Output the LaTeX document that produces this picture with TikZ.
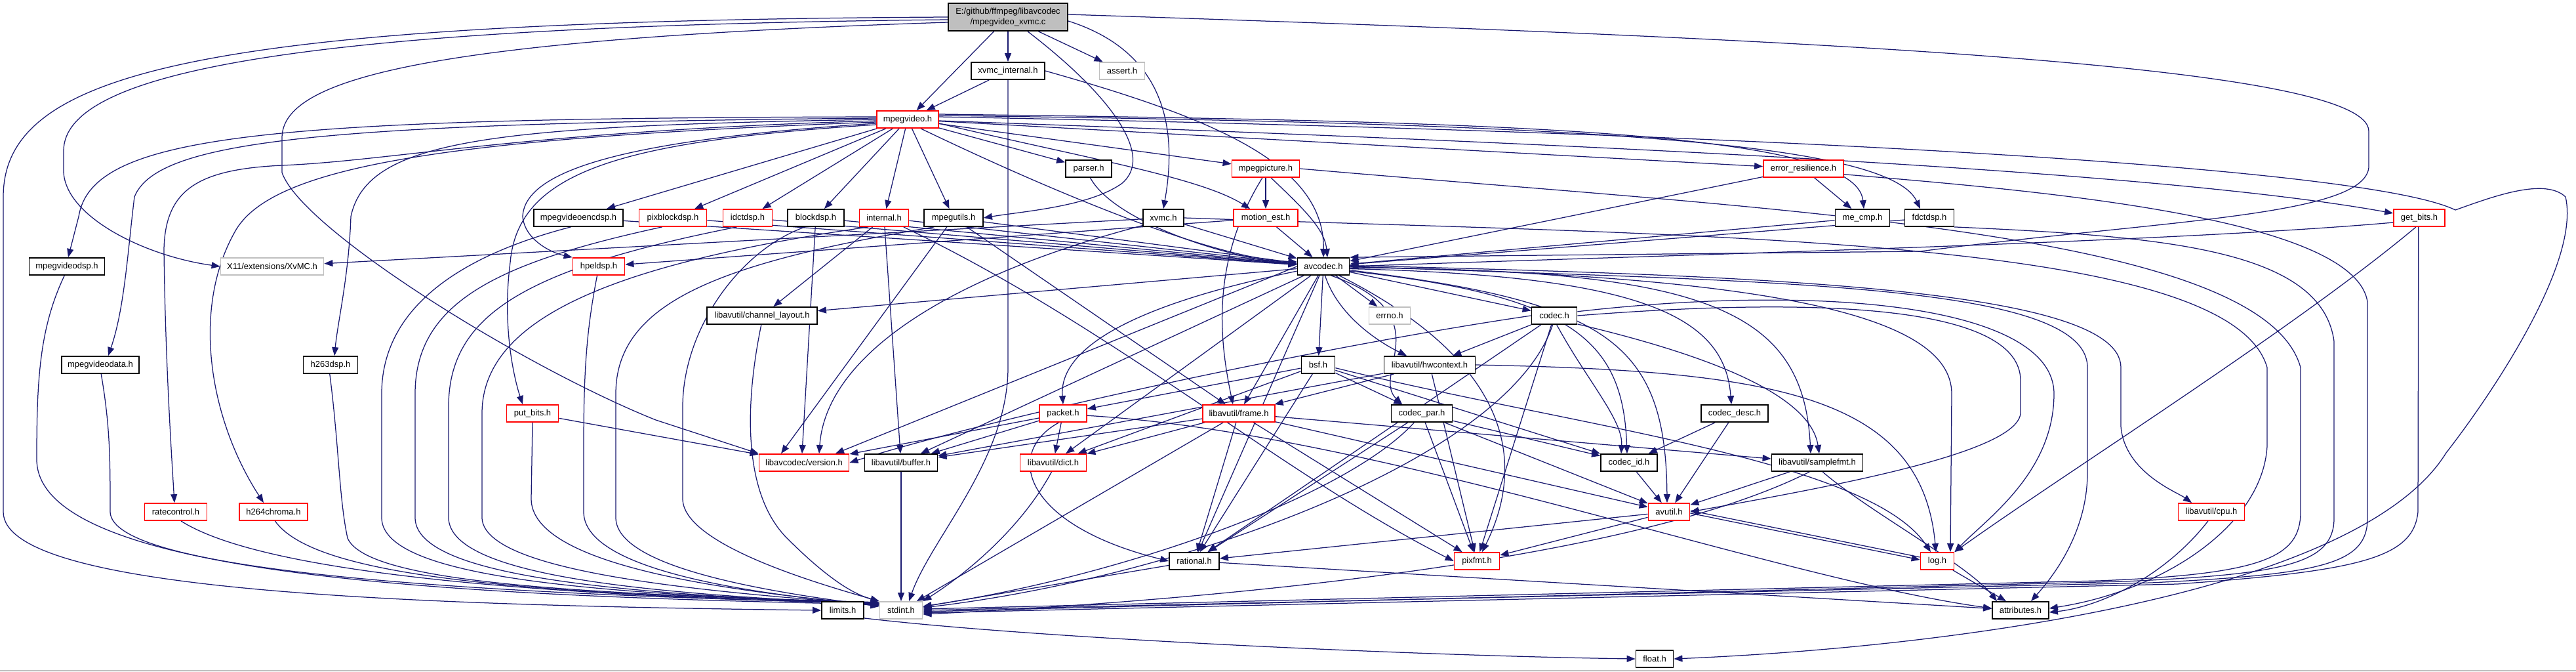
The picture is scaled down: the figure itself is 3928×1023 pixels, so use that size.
\documentclass[tikz,border=0pt]{standalone}
\usepackage{fontspec}
\newfontfamily\dxfont{Liberation Sans}
\usetikzlibrary{arrows.meta}
\definecolor{edgec}{HTML}{191970}
\definecolor{boxgrey}{HTML}{BFBFBF}
\pgfdeclarelayer{bg}
\pgfsetlayers{bg,main}
\tikzset{
  nb/.style={draw=black, line width=1.8pt, fill=white, minimum height=26pt, inner sep=0pt,
    font=\dxfont\fontsize{13pt}{16pt}\selectfont},
  nr/.style={nb, draw=red},
  ng/.style={nb, draw=boxgrey},
  edg/.style={draw=edgec, line width=1.25pt, -{Triangle[length=13pt,width=10pt]}},
}
\begin{document}
\begin{tikzpicture}[x=1pt,y=-1pt]
\useasboundingbox (0,0) rectangle (3928,1023);
% nodes
\node[nb, fill=boxgrey, minimum width=182pt, minimum height=42pt, align=center] (root) at (1537,26) {E:/github/ffmpeg/libavcodec\\/mpegvideo\_xvmc.c};
\node[nb, minimum width=112pt] (xvmcint) at (1537,108) {xvmc\_internal.h};
\node[ng, minimum width=69pt] (assert) at (1711,108) {assert.h};
\node[nr, minimum width=94pt] (mv) at (1384,182) {mpegvideo.h};
\node[nb, minimum width=70pt] (parser) at (1660,257) {parser.h};
\node[nr, minimum width=103pt] (mpegpic) at (1930,257) {mpegpicture.h};
\node[nr, minimum width=122pt] (errres) at (2750,257) {error\_resilience.h};
\node[nb, minimum width=136pt] (mvenc) at (882,332) {mpegvideoencdsp.h};
\node[nr, minimum width=103pt] (pixblk) at (1026,332) {pixblockdsp.h};
\node[nr, minimum width=75pt] (idct) at (1140,332) {idctdsp.h};
\node[nb, minimum width=86pt] (blk) at (1244,332) {blockdsp.h};
\node[nr, minimum width=75pt] (internal) at (1348,332) {internal.h};
\node[nb, minimum width=90pt] (mputils) at (1454,332) {mpegutils.h};
\node[nb, minimum width=62pt] (xvmch) at (1774,332) {xvmc.h};
\node[nr, minimum width=98pt] (motion) at (1930,332) {motion\_est.h};
\node[nb, minimum width=83pt] (mecmp) at (2840,332) {me\_cmp.h};
\node[nb, minimum width=75pt] (fdct) at (2942,332) {fdctdsp.h};
\node[nr, minimum width=78pt] (getbits) at (3689,332) {get\_bits.h};
\node[nb, minimum width=115pt] (mvdsp) at (102,406) {mpegvideodsp.h};
\node[ng, minimum width=157pt] (x11) at (415,406) {X11/extensions/XvMC.h};
\node[nr, minimum width=79pt] (hpel) at (913,406) {hpeldsp.h};
\node[nb, minimum width=79pt] (avcodec) at (2018,406) {avcodec.h};
\node[nb, minimum width=168pt] (chlayout) at (1162,481) {libavutil/channel\_layout.h};
\node[ng, minimum width=63pt] (errno) at (2119,481) {errno.h};
\node[nb, minimum width=69pt] (codec) at (2370,481) {codec.h};
\node[nb, minimum width=118pt] (mvdata) at (153,556) {mpegvideodata.h};
\node[nb, minimum width=83pt] (h263) at (504,556) {h263dsp.h};
\node[nb, minimum width=51pt] (bsf) at (2010,556) {bsf.h};
\node[nb, minimum width=139pt] (hwctx) at (2180,556) {libavutil/hwcontext.h};
\node[nr, minimum width=79pt] (putbits) at (812,630) {put\_bits.h};
\node[nr, minimum width=72pt] (packet) at (1621,630) {packet.h};
\node[nr, minimum width=110pt] (frame) at (1889,630) {libavutil/frame.h};
\node[nb, minimum width=93pt] (codecpar) at (2168,630) {codec\_par.h};
\node[nb, minimum width=102pt] (codecdesc) at (2645,630) {codec\_desc.h};
\node[nr, minimum width=137pt] (version) at (1226,705) {libavcodec/version.h};
\node[nb, minimum width=111pt] (buffer) at (1374,705) {libavutil/buffer.h};
\node[nr, minimum width=101pt] (dict) at (1606,705) {libavutil/dict.h};
\node[nb, minimum width=86pt] (codecid) at (2484,705) {codec\_id.h};
\node[nb, minimum width=139pt] (samplefmt) at (2771,705) {libavutil/samplefmt.h};
\node[nr, minimum width=95pt] (ratectl) at (268,780) {ratecontrol.h};
\node[nr, minimum width=104pt] (h264) at (417,780) {h264chroma.h};
\node[nr, minimum width=63pt] (avutil) at (2545,780) {avutil.h};
\node[nr, minimum width=101pt] (cpu) at (3372,780) {libavutil/cpu.h};
\node[nb, minimum width=76pt] (rational) at (1821,855) {rational.h};
\node[nr, minimum width=69pt] (pixfmt) at (2252,855) {pixfmt.h};
\node[nr, minimum width=51pt] (log) at (2954,855) {log.h};
\node[nb, minimum width=64pt] (limits) at (1285,930) {limits.h};
\node[ng, minimum width=65pt] (stdint) at (1374,930) {stdint.h};
\node[nb, minimum width=86pt] (attributes) at (3081,930) {attributes.h};
\node[nb, minimum width=57pt] (float) at (2523,1004) {float.h};

\begin{pgfonlayer}{bg}
\fill[white] (0,0) rectangle (3928,1023);
\draw[boxgrey, line width=2pt] (0,1021.5) -- (3928,1021.5);
% root
\draw[edg] (root.west) .. controls (300,32) and (5,110) .. (5,300) -- (5,780) .. controls (5,900) and (600,922) .. (limits.west);
\draw[edg] ([yshift=-4pt]root.west) .. controls (450,40) and (97,110) .. (97,230) -- (97,262) .. controls (100,330) and (220,390) .. (x11.west);
\draw[edg] ([yshift=-8pt]root.west) .. controls (650,60) and (430,120) .. (430,210) -- (430,263) .. controls (460,350) and (800,560) .. (1000,640) -- (version.north west);
\draw[edg] (root) -- (mv);
\draw[edg] (root) -- (xvmcint);
\draw[edg] (root) -- (assert);
\draw[edg] ([xshift=30pt]root.south) .. controls (1700,150) and (1760,240) .. (1710,280) .. controls (1660,315) and (1560,322) .. (mputils.east);
\draw[edg] ([yshift=-6pt]root.east) .. controls (1780,80) and (1795,200) .. (xvmch.north);
\draw[edg] ([yshift=4pt]root.east) .. controls (2800,60) and (3612,100) .. (3612,200) -- (3612,255) .. controls (3605,330) and (3300,335) .. (2928,383) -- (avcodec.north east);
% xvmc_internal
\draw[edg] (xvmcint) -- (mv);
\draw[edg] (xvmcint.east) .. controls (1850,180) and (2020,250) .. (avcodec.north);
\draw[edg] (xvmcint.south) -- (1537,560) .. controls (1537,700) and (1420,820) .. ([xshift=12pt]stdint.north);
% mpegvideo
\draw[edg] ([yshift=4pt]mv.west) .. controls (400,180) and (140,205) .. (120,330) -- ([xshift=2pt]mvdsp.north);
\draw[edg] ([yshift=2pt]mv.west) .. controls (500,188) and (240,212) .. (205,300) .. controls (195,380) and (190,470) .. ([xshift=12pt]mvdata.north);
\draw[edg] (mv.west) .. controls (750,192) and (560,212) .. (535,330) .. controls (532,420) and (515,490) .. ([xshift=6pt]h263.north);
\draw[edg] ([yshift=-2pt]mv.west) .. controls (800,200) and (600,245) .. (430,252) .. controls (300,258) and (252,290) .. (250,380) .. controls (252,550) and (262,700) .. ([xshift=-2pt]ratectl.north);
\draw[edg] ([yshift=-4pt]mv.west) .. controls (700,210) and (420,250) .. (360,350) .. controls (290,470) and (320,640) .. ([xshift=-15pt]h264.north);
\draw[edg] ([yshift=-6pt]mv.west) .. controls (1000,210) and (800,250) .. (797,330) .. controls (800,365) and (840,385) .. (hpel.north west);
\draw[edg] ([yshift=-8pt]mv.west) .. controls (950,215) and (790,260) .. (778,400) .. controls (765,500) and (785,580) .. ([xshift=-15pt]putbits.north);
\draw[edg] (mv) -- ([xshift=43pt]mvenc.north);
\draw[edg] (mv) -- (pixblk);
\draw[edg] (mv) -- (idct);
\draw[edg] (mv) -- (blk);
\draw[edg] (mv) -- (internal);
\draw[edg] (mv) -- (mputils);
\draw[edg] (mv) -- (parser);
\draw[edg] (mv) -- (mpegpic);
\draw[edg] (mv) -- (errres);
\draw[edg] ([yshift=-6pt]mv.east) .. controls (1650,240) and (1830,270) .. ([xshift=-24pt]motion.north);
\draw[edg] ([xshift=20pt]mv.south) .. controls (1600,290) and (1850,395) .. (avcodec.170);
\draw[edg] ([yshift=8pt]mv.east) .. controls (2300,185) and (2830,200) .. ([xshift=2pt]mecmp.north);
\draw[edg] ([yshift=6pt]mv.east) .. controls (2400,188) and (2880,215) .. ([xshift=-14pt]fdct.north);
\draw[edg] ([yshift=-2pt]mv.east) .. controls (2500,222) and (3300,262) .. (getbits.170);
\draw[edg] ([yshift=4pt]mv.east) .. controls (2600,200) and (3600,250) .. (3744,320) .. controls (3800,300) and (3880,270) .. (3912,300) .. controls (3935,400) and (3800,600) .. (3730,690) .. controls (3600,900) and (3000,985) .. (float.east);
% into avcodec
\draw[edg] (mvenc) -- (avcodec);
\draw[edg] (pixblk) -- (avcodec);
\draw[edg] (idct) -- (avcodec);
\draw[edg] (blk) -- (avcodec);
\draw[edg] (internal) -- (avcodec);
\draw[edg] (mputils) -- (avcodec);
\draw[edg] (parser.-80) .. controls (1700,340) and (1880,395) .. (avcodec.175);
\draw[edg] (mpegpic.-60) .. controls (1990,320) and (2020,350) .. ([xshift=6pt]avcodec.north);
\draw[edg] (xvmch) -- (avcodec);
\draw[edg] (motion) -- (avcodec);
\draw[edg] (errres) -- (avcodec);
\draw[edg] (mecmp) -- (avcodec);
\draw[edg] (fdct) -- (avcodec);
\draw[edg] (getbits.190) .. controls (3300,370) and (2500,390) .. (avcodec.east);
% xvmc.h
\draw[edg] (xvmch) -- (x11);
\draw[edg] (xvmch.-160) .. controls (1450,420) and (1260,540) .. ([xshift=23pt]version.north);
\draw[edg] (xvmch.east) .. controls (2600,360) and (3400,360) .. (3457,560) -- (3457,680) .. controls (3450,800) and (3300,900) .. ([yshift=3pt]attributes.east);
% motion, mpegpicture
\draw[edg] (motion) -- (hpel);
\draw[edg] (mpegpic) -- (motion);
\draw[edg] (mpegpic.-110) .. controls (1845,400) and (1860,520) .. ([xshift=-9pt]frame.north);
\draw[edg] (mpegpic.east) .. controls (2700,320) and (3450,350) .. (3508,560) -- (3508,780) .. controls (3508,850) and (3450,875) .. (3200,885) -- ([yshift=2pt]stdint.east);
% error_resilience, fdct, get_bits
\draw[edg] (errres) -- (mecmp);
\draw[edg] (errres.-8) .. controls (3100,290) and (3590,330) .. (3610,460) -- (3610,790) .. controls (3610,860) and (3540,875) .. (3280,888) -- (stdint.east);
\draw[edg] (fdct.-20) .. controls (3300,360) and (3540,380) .. (3559,520) -- (3559,790) .. controls (3559,860) and (3480,875) .. (3240,886) -- ([yshift=-2pt]stdint.east);
\draw[edg] (getbits.-95) -- (3687,780) .. controls (3680,850) and (3600,870) .. (3320,890) -- ([yshift=-4pt]stdint.east);
\draw[edg] (getbits.-110) .. controls (3500,500) and (3150,720) .. (log.north east);
% avcodec out
\draw[edg] (avcodec) -- (errno);
\draw[edg] (avcodec) -- (codec);
\draw[edg] (avcodec) -- (bsf);
\draw[edg] (avcodec.-80) .. controls (2040,480) and (2100,520) .. ([xshift=-35pt]hwctx.north);
\draw[edg] (avcodec.-50) .. controls (2200,480) and (2090,570) .. ([xshift=-30pt]codecpar.north);
\draw[edg] (avcodec) -- (chlayout);
\draw[edg] (avcodec.west) -- ([xshift=48pt]version.north);
\draw[edg] (avcodec) -- (buffer);
\draw[edg] (avcodec) -- (dict);
\draw[edg] (avcodec.-170) .. controls (1700,470) and (1615,540) .. (packet.north);
\draw[edg] (avcodec) -- (frame);
\draw[edg] (avcodec) -- (rational);
\draw[edg] (avcodec.-30) .. controls (2300,550) and (2330,700) .. ([xshift=8pt]pixfmt.north);
\draw[edg] (avcodec.-10) .. controls (2400,450) and (2475,520) .. ([xshift=-3pt]codecid.north);
\draw[edg] (avcodec.-5) .. controls (2500,420) and (2630,480) .. ([xshift=-5pt]codecdesc.north);
\draw[edg] (avcodec.-3) .. controls (2600,410) and (2750,470) .. ([xshift=-10pt]samplefmt.north);
\draw[edg] (avcodec.-8) .. controls (2450,460) and (2540,520) .. ([xshift=-3pt]avutil.north);
\draw[edg] (avcodec.-1) .. controls (2700,420) and (2976,480) .. (2976,600) -- ([xshift=20pt]log.north);
\draw[edg] (avcodec.0) .. controls (2700,430) and (3183,430) .. (3183,560) -- (3183,720) .. controls (3183,820) and (3120,890) .. ([xshift=16pt]attributes.north);
\draw[edg] (avcodec.2) .. controls (2700,420) and (3234,440) .. (3234,560) -- (3234,650) .. controls (3240,720) and (3320,750) .. ([xshift=-30pt]cpu.north);
% codec.h
\draw[edg] (codec) -- (hwctx);
\draw[edg] (codec.west) .. controls (2000,530) and (1500,640) .. (version.east);
\draw[edg] (codec) -- (rational);
\draw[edg] (codec) -- (pixfmt);
\draw[edg] (codec.-75) .. controls (2420,580) and (2475,640) .. ([xshift=-12pt]codecid.north);
\draw[edg] (codec.-20) .. controls (2600,540) and (2760,600) .. ([xshift=3pt]samplefmt.north);
\draw[edg] (codec.-100) .. controls (2300,700) and (1800,880) .. ([yshift=4pt]stdint.east);
\draw[edg] (codec.east) .. controls (2800,450) and (3081,470) .. (3081,580) -- (3081,630) .. controls (3075,690) and (2800,740) .. (avutil.east);
\draw[edg] (codec.10) .. controls (2800,430) and (3132,470) .. (3132,600) .. controls (3132,720) and (3030,790) .. (log.north east);
% bsf.h
\draw[edg] (bsf) -- (packet);
\draw[edg] (bsf) -- (codecpar);
\draw[edg] (bsf) -- (codecid);
\draw[edg] (bsf) -- (rational);
\draw[edg] (bsf) -- (dict);
\draw[edg] (bsf.-10) .. controls (2400,650) and (2850,700) .. ([xshift=-10pt]log.north);
% codec_par, codec_desc, codec_id
\draw[edg] (codecpar) -- (codecid);
\draw[edg] (codecpar) -- (avutil);
\draw[edg] (codecpar) -- (rational);
\draw[edg] (codecpar) -- (pixfmt);
\draw[edg] (codecpar.-130) .. controls (2050,760) and (1700,880) .. ([yshift=6pt]stdint.east);
\draw[edg] (codecdesc) -- (avutil);
\draw[edg] (codecdesc) -- (codecid);
\draw[edg] (codecid) -- (avutil);
% packet.h
\draw[edg] (packet) -- (version);
\draw[edg] (packet) -- (buffer);
\draw[edg] (packet) -- (dict);
\draw[edg] (packet.-115) .. controls (1530,690) and (1560,800) .. (rational.west);
\draw[edg] (packet.-5) .. controls (2100,660) and (2700,880) .. ([yshift=3pt]attributes.west);
% frame.h
\draw[edg] (frame) -- (buffer);
\draw[edg] (frame) -- (dict);
\draw[edg] (frame) -- (rational);
\draw[edg] (frame) -- (stdint);
\draw[edg] (frame) -- (samplefmt);
\draw[edg] (frame) -- (pixfmt);
\draw[edg] (frame) -- (avutil);
% hwcontext
\draw[edg] (hwctx) -- (frame);
\draw[edg] (hwctx) -- (buffer);
\draw[edg] (hwctx) -- (pixfmt);
\draw[edg] (hwctx.east) .. controls (2700,565) and (2930,600) .. ([xshift=-2pt]log.north);
% samplefmt
\draw[edg] (samplefmt) -- (avutil);
\draw[edg] (samplefmt.-60) .. controls (2850,780) and (3000,860) .. ([xshift=-36pt]attributes.north);
\draw[edg] (samplefmt.-130) .. controls (2500,850) and (1900,912) .. ([yshift=-6pt]stdint.east);
% avutil, log, rational, cpu
\draw[edg] (avutil) -- (rational);
\draw[edg] (avutil) -- (pixfmt);
\draw[edg] ([yshift=-2pt]avutil.east) -- ([yshift=2pt]log.west);
\draw[edg] ([yshift=6pt]log.west) -- ([yshift=2pt]avutil.east);
\draw[edg] (log) -- ([xshift=-22pt]attributes.north);
\draw[edg] (rational) -- (stdint);
\draw[edg] (rational) -- (attributes);
\draw[edg] (cpu.-110) .. controls (3300,880) and (3200,925) .. ([yshift=-3pt]attributes.east);
% dict, buffer, channel_layout
\draw[edg] (dict.-100) .. controls (1560,800) and (1480,870) .. (stdint.north east);
\draw[edg] (buffer) -- (stdint);
\draw[edg] (chlayout.-95) .. controls (1131,640) and (1140,760) .. (1200,820) .. controls (1260,880) and (1300,905) .. (stdint.north west);
% limits
\draw[edg] (limits.-20) .. controls (1600,975) and (2200,1000) .. (float.west);
% left side to stdint
\draw[edg] (mvdsp.-105) .. controls (60,500) and (56,580) .. (56,700) .. controls (56,880) and (700,908) .. (stdint.165);
\draw[edg] (mvdata.-85) .. controls (168,650) and (168,700) .. (168,780) .. controls (170,870) and (700,905) .. (stdint.162);
\draw[edg] (h263.-95) .. controls (517,680) and (517,760) .. (530,820) .. controls (560,890) and (900,905) .. (stdint.160);
\draw[edg] (ratectl.-60) .. controls (380,860) and (700,905) .. (stdint.163);
\draw[edg] (h264.-80) .. controls (480,880) and (800,905) .. (stdint.161);
\draw[edg] (mvenc.-130) .. controls (700,390) and (582,470) .. (582,600) -- (582,790) .. controls (585,880) and (900,905) .. (stdint.162);
\draw[edg] (pixblk.-140) .. controls (760,400) and (633,460) .. (633,600) -- (633,790) .. controls (636,880) and (950,905) .. (stdint.164);
\draw[edg] (idct.-140) .. controls (800,410) and (684,480) .. (684,620) -- (684,790) .. controls (688,880) and (1000,905) .. (stdint.165);
\draw[edg] (internal.-150) .. controls (950,400) and (735,480) .. (735,630) -- (735,790) .. controls (740,870) and (1050,900) .. (stdint.166);
\draw[edg] (blk.-140) .. controls (1130,380) and (1041,500) .. (1041,620) -- (1041,760) .. controls (1041,830) and (1250,890) .. (stdint.north west);
\draw[edg] (putbits.south) -- (810,760) .. controls (810,860) and (1100,900) .. (stdint.167);
\draw[edg] (hpel.-100) .. controls (895,500) and (890,560) .. (890,680) -- (890,780) .. controls (890,870) and (1150,905) .. (stdint.168);
\draw[edg] (mputils.-155) .. controls (1100,400) and (939,460) .. (939,600) -- (939,790) .. controls (942,870) and (1200,905) .. (stdint.170);
% misc
\draw[edg] (putbits) -- (version);
\draw[edg] (blk) -- ([xshift=-3pt]version.north);
\draw[edg] (mputils) -- ([xshift=-35pt]version.north);
\draw[edg] (mputils) -- (frame);
\draw[edg] (internal) -- (chlayout);
\draw[edg] (internal) -- (buffer);
\draw[edg] (internal.-25) .. controls (1700,500) and (1950,720) .. (pixfmt.west);
\end{pgfonlayer}
\end{tikzpicture}
\end{document}
